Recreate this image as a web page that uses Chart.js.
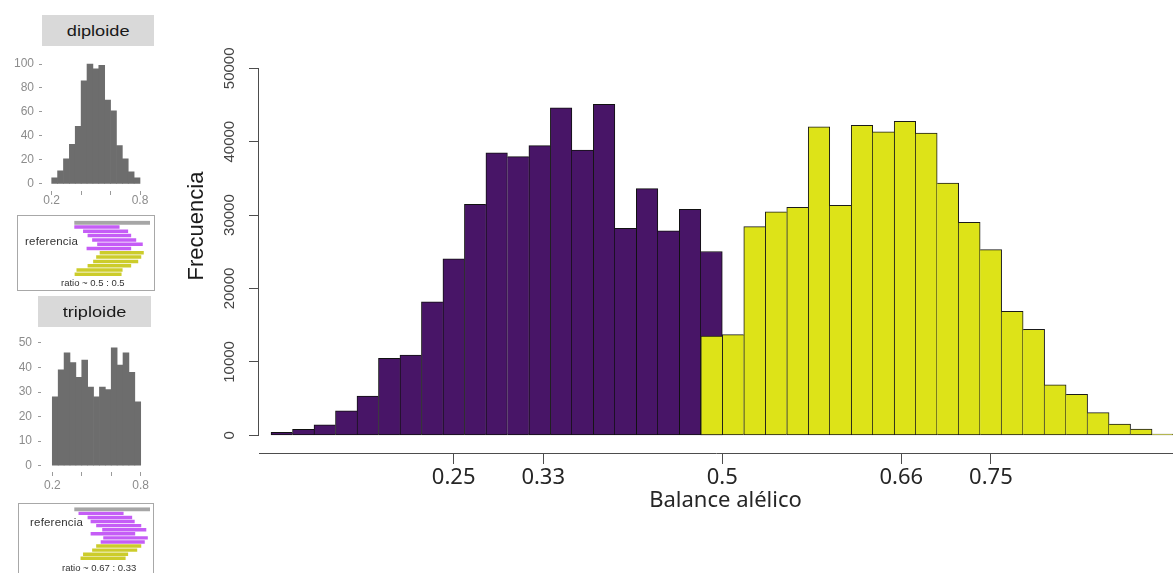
<!DOCTYPE html>
<html>
<head>
<meta charset="utf-8">
<script src="https://cdn.jsdelivr.net/npm/chart.js@4.4.1/dist/chart.umd.min.js"></script>
<style>
  html, body { margin: 0; padding: 0; background: #fff; width: 1173px; height: 573px; overflow: hidden; }
  .box { position: absolute; }
  .box canvas { display: block; }
  .strip { position: absolute; background: #d9d9d9; font-family: "Liberation Sans", Arial, sans-serif;
           font-size: 14px; color: #1a1a1a; display: flex; align-items: center; justify-content: center; }
  .strip span { display: inline-block; transform: scaleX(1.3); }
  .frame { position: absolute; border: 1px solid #a8a8a8; box-sizing: border-box; }
  .note { position: absolute; font-family: "Liberation Sans", Arial, sans-serif; color: #333; white-space: nowrap; line-height: 12px; }
</style>
</head>
<body>

<div class="strip" style="left:42px;top:15px;width:112px;height:31px;"><span>diploide</span></div>
<div class="box" style="left:0;top:46px;width:160px;height:169px;"><canvas id="histDip" width="160" height="169"></canvas></div>
<div class="frame" style="left:17px;top:215px;width:138px;height:76px;"></div>
<div class="box" style="left:18px;top:216px;width:136px;height:74px;"><canvas id="readsDip" width="136" height="74"></canvas></div>
<div class="note" style="left:25px;top:235px;font-size:11.5px;letter-spacing:0.2px;">referencia</div>
<div class="note" style="left:61px;top:277px;font-size:9.5px;">ratio ~ 0.5 : 0.5</div>

<div class="strip" style="left:38px;top:296px;width:113px;height:31px;"><span>triploide</span></div>
<div class="box" style="left:0;top:327px;width:160px;height:168px;"><canvas id="histTrip" width="160" height="168"></canvas></div>
<div class="frame" style="left:18px;top:503px;width:136px;height:80px;"></div>
<div class="box" style="left:19px;top:504px;width:134px;height:69px;"><canvas id="readsTrip" width="134" height="69"></canvas></div>
<div class="note" style="left:30px;top:516px;font-size:11.5px;letter-spacing:0.2px;">referencia</div>
<div class="note" style="left:62px;top:562px;font-size:9.5px;">ratio ~ 0.67 : 0.33</div>

<div class="box" style="left:160px;top:0;width:1013px;height:573px;"><canvas id="main" width="1013" height="573"></canvas></div>

<script>
// ---- Allele balance histogram (main panel) ----
const purpleBins = [0.09, 0.11, 0.13, 0.15, 0.17, 0.19, 0.21, 0.23, 0.25, 0.27, 0.29,
                    0.31, 0.33, 0.35, 0.37, 0.39, 0.41, 0.43, 0.45, 0.47, 0.49];
const purpleCounts = [410, 820, 1440, 3350, 5350, 10490, 10940, 18200, 24040, 31470, 38500,
                      37960, 39460, 44630, 38870, 45090, 28200, 33600, 27870, 30790, 25040];
const yellowBins = [0.49, 0.51, 0.53, 0.55, 0.57, 0.59, 0.61, 0.63, 0.65, 0.67, 0.69,
                    0.71, 0.73, 0.75, 0.77, 0.79, 0.81, 0.83, 0.85, 0.87, 0.89, 0.91];
const yellowCounts = [13530, 13710, 28420, 30460, 31060, 42040, 31330, 42230, 41360, 42780, 41180,
                      34370, 29020, 25300, 16890, 14440, 6890, 5580, 3080, 1540, 860, 150];
const xTickValues = [0.25, 1 / 3, 0.5, 2 / 3, 0.75];
const xTickLabels = ['0.25', '0.33', '0.5', '0.66', '0.75'];
const yTickValues = [0, 10000, 20000, 30000, 40000, 50000];

// ---- Small facet histograms ----
const facetBins = [0.22, 0.26, 0.30, 0.34, 0.38, 0.42, 0.46, 0.50, 0.54, 0.58, 0.62, 0.66, 0.70, 0.74, 0.78];
const diploidCounts = [5, 11, 21, 33, 48, 86, 100, 96, 99, 70, 61, 32, 21, 10, 5];
const triploidCounts = [28, 39, 46, 42, 36, 43, 32, 28, 32, 31, 48, 41, 46, 38, 26];
const facetXTicks = [0.2, 0.4, 0.6, 0.8];
const facetXLabels = ['0.2', '', '', '0.8'];
const diploidYTicks = [0, 20, 40, 60, 80, 100];
const triploidYTicks = [0, 10, 20, 30, 40, 50];

// ---- Read sketches (start, end along a 150 bp reference) ----
const refSpan = [0, 150];
const dipPurpleReads = [[0, 89], [18, 106], [27, 112], [36, 122], [46, 135], [25, 112]];
const dipYellowReads = [[51, 137], [44, 132], [38, 126], [27, 112], [5, 95], [1, 93]];
const tripPurpleReads = [[9, 97], [27, 114], [33, 119], [44, 132], [56, 142], [33, 120], [58, 145], [53, 139]];
const tripYellowReads = [[44, 132], [36, 124], [18, 106], [13, 101]];

const PURPLE = '#481567';
const YELLOW = '#dde318';
const AXIS = '#4d4d4d';

// Only draw the side of a bar that is not already covered by a taller neighbour.
function sideBorders(counts) {
  return (c) => {
    const i = c.dataIndex;
    if (i === undefined) return 1;
    const h = counts[i];
    const prev = i > 0 ? counts[i - 1] : -1;
    const next = i < counts.length - 1 ? counts[i + 1] : -1;
    return { top: 1, bottom: 1, left: prev <= h ? 1 : 0, right: next < h ? 1 : 0 };
  };
}

const axisDecor = {
  id: 'axisDecor',
  afterDraw(chart) {
    const { ctx, chartArea, scales: { y } } = chart;
    ctx.save();
    // R-style y axis line: only from the first to the last tick
    ctx.strokeStyle = AXIS;
    ctx.lineWidth = 1;
    const xl = Math.round(chartArea.left) - 0.5;
    ctx.beginPath();
    ctx.moveTo(xl, y.getPixelForValue(yTickValues[0]));
    ctx.lineTo(xl, y.getPixelForValue(yTickValues[yTickValues.length - 1]));
    ctx.stroke();

    // rotated y tick labels
    ctx.fillStyle = '#444';
    ctx.font = '15px "Liberation Sans", Arial, sans-serif';
    ctx.textAlign = 'center';
    ctx.textBaseline = 'middle';
    y.ticks.forEach((t) => {
      ctx.save();
      ctx.translate(69.7, y.getPixelForValue(t.value));
      ctx.rotate(-Math.PI / 2);
      ctx.fillText(String(t.value), 0, 0);
      ctx.restore();
    });

    // axis titles
    ctx.fillStyle = '#1a1a1a';
    ctx.font = '22px "Liberation Sans", Arial, sans-serif';
    ctx.save();
    ctx.translate(37.3, 226);
    ctx.rotate(-Math.PI / 2);
    ctx.fillText('Frecuencia', 0, 0);
    ctx.restore();

    ctx.fillStyle = '#262626';
    ctx.font = '22px "Noto Sans", sans-serif';
    ctx.textBaseline = 'alphabetic';
    ctx.fillText('Balance alélico', 565.5, 507);
    ctx.restore();
  }
};

new Chart(document.getElementById('main'), {
  type: 'bar',
  data: {
    datasets: [
      {
        label: 'alelo 2',
        data: yellowBins.map((x, i) => ({ x, y: yellowCounts[i] })),
        backgroundColor: YELLOW,
        borderColor: '#1a1a1a',
        borderWidth: sideBorders(yellowCounts),
        borderSkipped: false,
        grouped: false,
        barPercentage: 1,
        categoryPercentage: 1,
        order: 0
      },
      {
        label: 'alelo 1',
        data: purpleBins.map((x, i) => ({ x, y: purpleCounts[i] })),
        backgroundColor: PURPLE,
        borderColor: '#111',
        borderWidth: sideBorders(purpleCounts),
        borderSkipped: false,
        grouped: false,
        barPercentage: 1,
        categoryPercentage: 1,
        order: 1
      }
    ]
  },
  options: {
    responsive: false,
    animation: false,
    layout: { padding: { top: 68.3, right: 0, bottom: 0, left: 0 } },
    plugins: { legend: { display: false }, tooltip: { enabled: false } },
    scales: {
      x: {
        type: 'linear',
        min: 0.0688,
        max: 0.9195,
        offset: false,
        grid: { display: true, offset: false, drawOnChartArea: false, drawTicks: true, tickLength: 11, color: AXIS },
        border: { display: true, color: AXIS, width: 1 },
        afterBuildTicks: (s) => { s.ticks = xTickValues.map((v) => ({ value: v })); },
        ticks: {
          autoSkip: false, maxRotation: 0, padding: 1, color: '#262626',
          font: { family: '"Noto Sans", sans-serif', size: 22 },
          callback: (v, i) => xTickLabels[i]
        },
        afterFit: (s) => { s.height = 120; }
      },
      y: {
        type: 'linear',
        min: -2411,
        max: 50000,
        grid: { display: true, drawOnChartArea: false, drawTicks: true, tickLength: 10, color: AXIS },
        border: { display: false },
        afterBuildTicks: (s) => { s.ticks = yTickValues.map((v) => ({ value: v })); },
        ticks: { display: false },
        afterFit: (s) => { s.width = 99; }
      }
    }
  },
  plugins: [axisDecor]
});

// ---- facet histograms ----
function facetHist(id, counts, cfg) {
  new Chart(document.getElementById(id), {
    type: 'bar',
    data: {
      datasets: [{
        data: facetBins.map((x, i) => ({ x, y: counts[i] })),
        backgroundColor: '#6d6d6d',
        borderWidth: 0,
        barPercentage: 1,
        categoryPercentage: 1
      }]
    },
    options: {
      responsive: false,
      animation: false,
      layout: { padding: { top: cfg.padTop, right: cfg.padRight, bottom: 0, left: 0 } },
      plugins: { legend: { display: false }, tooltip: { enabled: false } },
      scales: {
        x: {
          type: 'linear', min: cfg.xMin, max: cfg.xMax, offset: false,
          grid: { display: true, offset: false, drawOnChartArea: false, drawTicks: true, tickLength: 4, color: '#9a9a9a' },
          border: { display: false },
          afterBuildTicks: (s) => { s.ticks = facetXTicks.map((v) => ({ value: v })); },
          ticks: {
            autoSkip: false, maxRotation: 0, padding: cfg.xPad, color: '#8c8c8c',
            font: { family: '"Liberation Sans", Arial, sans-serif', size: 12 },
            callback: (v, i) => facetXLabels[i]
          },
          afterFit: (s) => { s.height = cfg.xHeight; }
        },
        y: {
          type: 'linear', min: cfg.yMin, max: cfg.yMax,
          grid: { display: true, drawOnChartArea: false, drawTicks: true, tickLength: 3, color: '#9a9a9a' },
          border: { display: false },
          afterBuildTicks: (s) => { s.ticks = cfg.yTicks.map((v) => ({ value: v })); },
          ticks: {
            padding: cfg.yPad, color: '#8c8c8c',
            font: { family: '"Liberation Sans", Arial, sans-serif', size: 12 }
          },
          afterFit: (s) => { s.width = cfg.yWidth; }
        }
      }
    }
  });
}

facetHist('histDip', diploidCounts, {
  padTop: 1, padRight: 6, xMin: 0.1341, xMax: 0.8951, yMin: -5.92, yMax: 104.85,
  yTicks: diploidYTicks, xHeight: 24, yWidth: 42, xPad: -2, yPad: 5
});
facetHist('histTrip', triploidCounts, {
  padTop: 0, padRight: 9.3, xMin: 0.1233, xMax: 0.8679, yMin: -2.59, yMax: 51.11,
  yTicks: triploidYTicks, xHeight: 23, yWidth: 41, xPad: 2.8, yPad: 6
});

// ---- read sketches ----
function readsChart(id, purple, yellow, pad) {
  const rows = ['ref'].concat(purple.map((_, i) => 'p' + i), yellow.map((_, i) => 'y' + i));
  const reads = [null].concat(purple, yellow);
  const colors = ['rgba(0,0,0,0)'].concat(purple.map(() => '#c55df6'), yellow.map(() => '#cccc2b'));
  const refRow = [refSpan].concat(rows.slice(1).map(() => null));
  new Chart(document.getElementById(id), {
    type: 'bar',
    data: {
      labels: rows,
      datasets: [
        { data: refRow, backgroundColor: '#a6a6a6', barThickness: 3.2, grouped: false, borderWidth: 0 },
        { data: reads, backgroundColor: colors, barThickness: 2.8, grouped: false, borderWidth: 0 }
      ]
    },
    options: {
      indexAxis: 'y',
      responsive: false,
      animation: false,
      layout: { padding: pad },
      plugins: { legend: { display: false }, tooltip: { enabled: false } },
      scales: {
        x: { type: 'linear', min: 0, max: 150, display: false },
        y: { display: false }
      }
    }
  });
}

readsChart('readsDip', dipPurpleReads, dipYellowReads, { left: 56.3, right: 4, top: 4.55, bottom: 13.55 });
readsChart('readsTrip', tripPurpleReads, tripYellowReads, { left: 55.3, right: 3, top: 3.26, bottom: 12.66 });
</script>
</body>
</html>
